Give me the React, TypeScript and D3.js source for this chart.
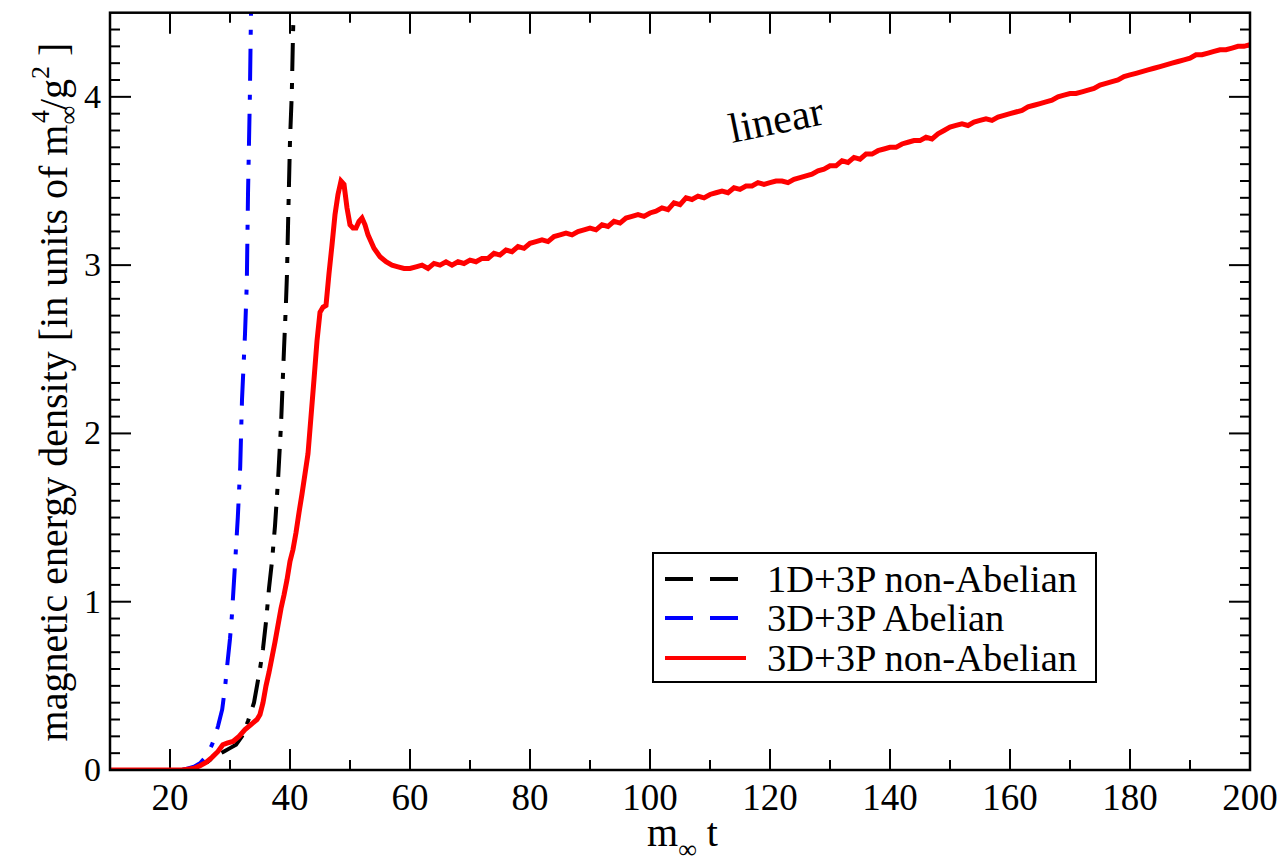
import React from "react";
import * as d3 from "d3";

// ---- data ----
const redT = [10, 20, 22, 23, 24, 25, 26, 27, 28, 28.8, 29.5, 30.5, 31.5, 32.5, 33.5, 34.5, 35, 35.5, 36, 36.5, 37, 37.5, 38, 38.5, 39, 39.5, 40, 40.5, 41, 41.5, 42, 42.5, 43, 43.5, 44, 44.5, 45, 45.5, 46, 46.5, 47, 47.5, 48, 48.5, 49, 49.5, 50, 50.5, 51, 51.5, 52, 52.5, 53, 54, 55, 56, 57, 58, 59, 60, 61, 62, 63, 64, 65, 66, 67, 68, 69, 70, 71, 72, 73, 74, 75, 76, 77, 78, 79, 80, 81, 82, 83, 84, 85, 86, 87, 88, 89, 90, 91, 92, 93, 94, 95, 96, 97, 98, 99, 100, 101, 102, 103, 104, 105, 106, 107, 108, 109, 110, 111, 112, 113, 114, 115, 116, 117, 118, 119, 120, 121, 122, 123, 124, 125, 126, 127, 128, 129, 130, 131, 132, 133, 134, 135, 136, 137, 138, 139, 140, 141, 142, 143, 144, 145, 146, 147, 148, 149, 150, 151, 152, 153, 154, 155, 156, 157, 158, 159, 160, 161, 162, 163, 164, 165, 166, 167, 168, 169, 170, 171, 172, 173, 174, 175, 176, 177, 178, 179, 180, 181, 182, 183, 184, 185, 186, 187, 188, 189, 190, 191, 192, 193, 194, 195, 196, 197, 198, 199, 200];
const redY = [0, 0, 0, 0.005, 0.01, 0.025, 0.045, 0.075, 0.11, 0.15, 0.16, 0.17, 0.2, 0.24, 0.27, 0.3, 0.33, 0.4, 0.5, 0.58, 0.67, 0.76, 0.86, 0.96, 1.04, 1.13, 1.24, 1.31, 1.41, 1.53, 1.64, 1.76, 1.88, 2.1, 2.32, 2.55, 2.72, 2.75, 2.76, 2.95, 3.12, 3.3, 3.42, 3.5, 3.48, 3.34, 3.24, 3.22, 3.22, 3.26, 3.28, 3.24, 3.18, 3.1, 3.05, 3.02, 3.0, 2.99, 2.98, 2.98, 2.99, 3.0, 2.98, 3.01, 3.0, 3.02, 3.0, 3.02, 3.01, 3.03, 3.02, 3.04, 3.04, 3.07, 3.06, 3.09, 3.08, 3.11, 3.1, 3.13, 3.14, 3.15, 3.14, 3.17, 3.18, 3.19, 3.18, 3.2, 3.21, 3.22, 3.21, 3.24, 3.23, 3.26, 3.25, 3.28, 3.29, 3.3, 3.29, 3.31, 3.32, 3.34, 3.33, 3.37, 3.36, 3.4, 3.39, 3.41, 3.4, 3.42, 3.43, 3.44, 3.43, 3.46, 3.45, 3.47, 3.47, 3.49, 3.48, 3.49, 3.5, 3.5, 3.49, 3.51, 3.52, 3.53, 3.54, 3.56, 3.57, 3.59, 3.59, 3.62, 3.61, 3.64, 3.63, 3.66, 3.66, 3.68, 3.69, 3.7, 3.7, 3.72, 3.73, 3.74, 3.74, 3.76, 3.75, 3.78, 3.8, 3.82, 3.83, 3.84, 3.83, 3.85, 3.86, 3.87, 3.86, 3.88, 3.89, 3.9, 3.91, 3.92, 3.94, 3.95, 3.96, 3.97, 3.98, 4.0, 4.01, 4.02, 4.02, 4.03, 4.04, 4.05, 4.07, 4.08, 4.09, 4.1, 4.12, 4.13, 4.14, 4.15, 4.16, 4.17, 4.18, 4.19, 4.2, 4.21, 4.22, 4.23, 4.25, 4.25, 4.26, 4.27, 4.28, 4.28, 4.29, 4.3, 4.3, 4.31];

const blackT = [10, 20, 22, 23, 24, 25, 26, 27, 28, 29, 30, 31, 32, 33, 34, 34.5, 35, 35.5, 36, 36.5, 37, 37.5, 38, 38.5, 39, 39.3, 39.5, 39.7, 40.0, 40.3, 40.5, 40.6, 40.7];
const blackY = [0, 0, 0, 0.005, 0.01, 0.02, 0.04, 0.07, 0.09, 0.11, 0.13, 0.15, 0.2, 0.29, 0.4, 0.5, 0.6, 0.72, 0.88, 1.08, 1.24, 1.45, 1.72, 2.05, 2.5, 2.75, 2.95, 3.28, 3.74, 4.02, 4.37, 4.5, 4.7];

const blueT = [10, 20, 22, 23, 24, 25, 26, 27, 27.5, 28, 28.7, 29.2, 29.5, 30, 30.3, 30.8, 31.3, 31.7, 32, 32.5, 32.8, 33, 33.3, 33.5, 33.6];
const blueY = [0, 0, 0, 0.01, 0.02, 0.04, 0.08, 0.15, 0.2, 0.26, 0.36, 0.5, 0.61, 0.78, 0.91, 1.2, 1.5, 1.8, 2.2, 2.59, 2.89, 3.42, 3.98, 4.5, 4.7];

const xMajorTicks = [20, 40, 60, 80, 100, 120, 140, 160, 180, 200];
const yMajorTicks = [0, 1, 2, 3, 4];
const legendLabels = ["1D+3P non-Abelian", "3D+3P Abelian", "3D+3P non-Abelian"];
const seriesColors = ["#000000", "#0000ff", "#ff0000"];

const W = 1285;
const H = 856;
const L = 110;
const R = 1250;
const T = 12.7;
const B = 770;
const FONT = "Liberation Serif, Tinos, DejaVu Serif, serif";

export default function App() {
  const x = d3.scaleLinear().domain([10, 200]).range([L, R]);
  const y = d3.scaleLinear().domain([0, 4.5]).range([B, T]);
  const line = d3
    .line<[number, number]>()
    .x((d) => x(d[0]))
    .y((d) => y(d[1]));
  const zip = (a: number[], b: number[]) => a.map((v, i) => [v, b[i]] as [number, number]);

  const xMinor = d3.range(10, 201, 10).filter((v) => v % 20 !== 0);
  const yMinor = d3.range(0, 45).map((i) => i / 10).filter((v, i) => i % 10 !== 0);

  const major = 21;
  const minor = 10;

  return (
    <svg width={W} height={H} style={{ position: "absolute", left: 0, top: 0, background: "#fff", fontFamily: FONT }}>
      <defs>
        <clipPath id="plotclip">
          <rect x={L} y={T} width={R - L} height={B - T} />
        </clipPath>
      </defs>
      <rect x={0} y={0} width={W} height={H} fill="#fff" />

      {/* ticks */}
      <g stroke="#000" strokeWidth={2}>
        {xMajorTicks.map((v) => (
          <g key={"xm" + v}>
            <line x1={x(v)} x2={x(v)} y1={B} y2={B - major} />
            <line x1={x(v)} x2={x(v)} y1={T} y2={T + major} />
          </g>
        ))}
        {xMinor.map((v) => (
          <g key={"xn" + v}>
            <line x1={x(v)} x2={x(v)} y1={B} y2={B - minor} />
            <line x1={x(v)} x2={x(v)} y1={T} y2={T + minor} />
          </g>
        ))}
        {yMajorTicks.map((v) => (
          <g key={"ym" + v}>
            <line x1={L} x2={L + major} y1={y(v)} y2={y(v)} />
            <line x1={R} x2={R - major} y1={y(v)} y2={y(v)} />
          </g>
        ))}
        {yMinor.map((v) => (
          <g key={"yn" + v}>
            <line x1={L} x2={L + minor} y1={y(v)} y2={y(v)} />
            <line x1={R} x2={R - minor} y1={y(v)} y2={y(v)} />
          </g>
        ))}
      </g>

      {/* curves */}
      <g clipPath="url(#plotclip)" fill="none" strokeLinejoin="miter" strokeLinecap="butt">
        <path d={line(zip(blackT, blackY)) || ""} stroke={seriesColors[0]} strokeWidth={4} strokeDasharray="28,12,6,12" />
        <path d={line(zip(blueT, blueY)) || ""} stroke={seriesColors[1]} strokeWidth={4} strokeDasharray="32,14,5,14" />
        <path d={line(zip(redT, redY)) || ""} stroke={seriesColors[2]} strokeWidth={5} />
      </g>

      {/* frame */}
      <rect x={L} y={T} width={R - L} height={B - T} fill="none" stroke="#000" strokeWidth={2.5} />

      {/* tick labels */}
      <g fontSize={37} textAnchor="middle" fill="#000">
        {xMajorTicks.map((v) => (
          <text key={"xl" + v} x={x(v)} y={810}>
            {v}
          </text>
        ))}
      </g>
      <g fontSize={34} textAnchor="end" fill="#000">
        {yMajorTicks.map((v) => (
          <text key={"yl" + v} x={101} y={y(v) + 11}>
            {v}
          </text>
        ))}
      </g>

      {/* axis titles */}
      <text x={647} y={846} fontSize={40} fill="#000">
        m
        <tspan fontSize={26} dy={12}>∞</tspan>
        <tspan dy={-12}> t</tspan>
      </text>
      <text transform="translate(67,392) rotate(-90)" textAnchor="middle" fontSize={40} fill="#000">
        magnetic energy density [in units of m
        <tspan fontSize={26} dy={10}>∞</tspan>
        <tspan fontSize={26} dx={-17} dy={-28}>4</tspan>
        <tspan dy={18}>/g</tspan>
        <tspan fontSize={26} dy={-18}>2</tspan>
        <tspan dy={18}> ]</tspan>
      </text>

      {/* annotation */}
      <text transform="translate(732,143) rotate(-11.5)" fontSize={42} fill="#000">
        linear
      </text>

      {/* legend */}
      <rect x={653} y={553} width={443} height={129} fill="#fff" stroke="#000" strokeWidth={2} />
      {legendLabels.map((lab, i) => {
        const ly = [579, 618, 658][i];
        return (
          <g key={lab}>
            <line
              x1={665}
              x2={i === 2 ? 746 : 738}
              y1={ly}
              y2={ly}
              stroke={seriesColors[i]}
              strokeWidth={4}
              strokeDasharray={i === 2 ? undefined : "28,17"}
            />
            <text x={767} y={ly + 13} fontSize={38.5} fill="#000">
              {lab}
            </text>
          </g>
        );
      })}
    </svg>
  );
}
